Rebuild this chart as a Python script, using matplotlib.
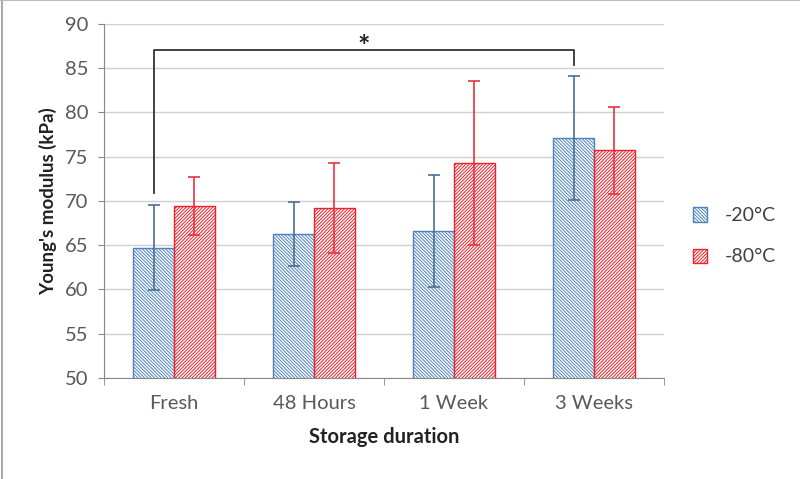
import numpy as np
import matplotlib.pyplot as plt
from matplotlib.lines import Line2D

# data
categories = ["Fresh", "48 Hours", "1 Week", "3 Weeks"]
series_names = ["-20°C", "-80°C"]
mean_20 = [64.7, 66.3, 66.6, 77.1]
err_20 = [4.8, 3.6, 6.3, 7.0]
mean_80 = [69.4, 69.2, 74.3, 75.7]
err_80 = [3.3, 5.1, 9.3, 4.9]
# significance bracket: Fresh -20 vs 3 Weeks -20
bracket_top = 87.0
bracket_left_end = 70.9
bracket_right_end = 85.4

plt.rcParams['font.family'] = ['Lato', 'DejaVu Sans']
plt.rcParams['hatch.linewidth'] = 0.7

blue = "#4F81BD"
red = "#F0202A"
tick_col = "#595959"

fig = plt.figure(figsize=(8, 4.79), dpi=100)
ax = fig.add_axes([0.13, 0.211, 0.70, 0.739])

x = np.arange(len(categories))
w = 0.29
b1 = ax.bar(x - w / 2, mean_20, w, color="white", edgecolor=blue, hatch="\\" * 10,
            linewidth=1.0, label=series_names[0], zorder=2)
b2 = ax.bar(x + w / 2, mean_80, w, color="white", edgecolor=red, hatch="/" * 10,
            linewidth=1.0, label=series_names[1], zorder=2)
for b in b1:
    b._hatch_color = (0.31, 0.51, 0.74, 1)
for b in b2:
    b._hatch_color = (0.94, 0.13, 0.16, 1)

ax.errorbar(x - w / 2, mean_20, yerr=err_20, fmt="none", ecolor="#4A6F96",
            elinewidth=1.2, capsize=4, capthick=1.2, zorder=3)
ax.errorbar(x + w / 2, mean_80, yerr=err_80, fmt="none", ecolor="#E8323C",
            elinewidth=1.2, capsize=4, capthick=1.2, zorder=3)

# bracket
xl, xr = x[0] - w / 2, x[3] - w / 2
ax.plot([xl, xl, xr, xr], [bracket_left_end, bracket_top, bracket_top, bracket_right_end],
        color="#333333", linewidth=1.3, zorder=4)
ax.text((xl + xr) / 2, bracket_top + 0.4, "*", ha="center", va="center",
        fontsize=21, fontweight="bold", color="#222222")

ax.set_ylim(50, 90)
ax.set_xlim(-0.5, 3.5)
ax.set_yticks(np.arange(50, 91, 5))
ax.set_xticks(x)
ax.set_xticklabels(categories)
ax.set_xticks(np.arange(-0.5, 3.6, 1), minor=True)
ax.tick_params(axis="x", which="major", length=0, pad=12, labelsize=14.5, labelcolor=tick_col)
ax.tick_params(axis="x", which="minor", length=5, color="#888888", direction="out")
ax.tick_params(axis="y", length=4, color="#888888", labelsize=14.5, labelcolor=tick_col, pad=7)
ax.grid(axis="y", color="#D0D0D0", linewidth=1.0, zorder=0)
ax.set_axisbelow(True)
for s in ["top", "right"]:
    ax.spines[s].set_visible(False)
for s in ["left", "bottom"]:
    ax.spines[s].set_color("#888888")

ax.set_ylabel("Young's modulus (kPa)", fontsize=13.5, fontweight="bold", labelpad=6, color="#222222")
ax.set_xlabel("Storage duration", fontsize=14.5, fontweight="bold", labelpad=11, color="#222222")

ax.legend(loc="center left", bbox_to_anchor=(1.02, 0.40), frameon=False,
          fontsize=14, handlelength=0.75, handleheight=0.75, labelspacing=1.25,
          handletextpad=0.9, labelcolor="#404040")

# thin frame around the picture
fig.add_artist(Line2D([0.003, 0.003], [0, 1], color="#AAAAAA", linewidth=1.5))
fig.add_artist(Line2D([0, 1], [0.999, 0.999], color="#BBBBBB", linewidth=1.5))

fig.savefig("out.png", dpi=100, facecolor="white")
